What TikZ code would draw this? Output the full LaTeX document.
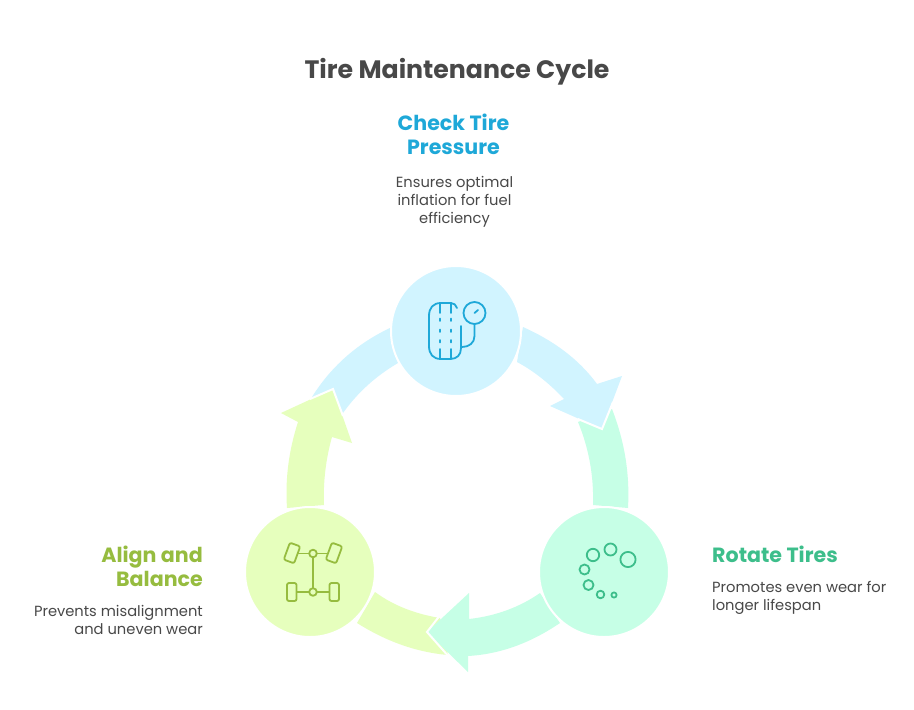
\documentclass[tikz,border=0pt]{standalone}
\usepackage{fontspec}
\setmainfont{Poppins}
\definecolor{bluefill}{HTML}{D1F4FF}
\definecolor{tealfill}{HTML}{C6FFE6}
\definecolor{limefill}{HTML}{E6FFBD}
\definecolor{bluestroke}{HTML}{1EA8D8}
\definecolor{tealstroke}{HTML}{3DBE8B}
\definecolor{limestroke}{HTML}{96BC3F}
\definecolor{inktext}{HTML}{484848}
\tikzset{
  disc/.style={circle,minimum size=130pt,inner sep=0pt,draw=white,line width=2pt},
  icon/.style={line width=1.8pt,line cap=round,line join=round,fill=none},
  cutline/.style={white,line width=2pt,line join=miter},
  headtext/.style={font=\fontsize{20.6pt}{24pt}\selectfont\bfseries,inner sep=0pt},
  bodytext/.style={font=\fontsize{14.7pt}{18pt}\selectfont,text=inktext,inner sep=0pt},
}
\begin{document}
\begin{tikzpicture}[x=1pt,y=-1pt]
\useasboundingbox (0,0) rectangle (914,710);
\fill[white] (0,0) rectangle (914,710);
% lower ribbons first
\fill[tealfill] (578,422) .. controls (588,446) and (594,474) .. (593,505) -- (628,508) .. controls (630,472) and (624,440) .. (612,409) -- cycle;
\fill[limefill] (375,592) .. controls (394,606) and (416,614) .. (440,618) -- (448,655) .. controls (414,652) and (384,640) .. (357,623) -- cycle;
\fill[bluefill] (390,328) .. controls (356,344) and (330,368) .. (312,397) -- (343,413) .. controls (358,392) and (376,376) .. (398,363) -- cycle;
% arrow heads on top
\fill[tealfill] (469,619) -- (469,593) -- (427,632) -- (468,672) -- (468,656) .. controls (502,654) and (532,642) .. (560,623) -- (540,593) .. controls (520,607) and (496,616) .. (469,619) -- cycle;
\draw[cutline] (448,605) -- (427,632) -- (450,658);
\fill[limefill] (287,508) .. controls (285,478) and (289,450) .. (298,422) -- (281,413) -- (333,389) -- (352,443) -- (332,437) .. controls (326,458) and (323,482) .. (324,505) -- cycle;
\draw[cutline] (310,399) -- (333,389) -- (343,416);
\fill[bluefill] (523,327) .. controls (552,340) and (578,358) .. (597,384) -- (622,376) -- (602,429) -- (550,406) -- (564,399) .. controls (550,384) and (534,371) .. (517,362) -- cycle;
\draw[cutline] (578,419) -- (602,429) -- (613,402);
% discs
\node[disc,fill=bluefill] (check) at (456,331) {};
\node[disc,fill=tealfill] (rotate) at (604,572) {};
\node[disc,fill=limefill] (align) at (310,572) {};
% tyre icon
\begin{scope}[bluestroke,icon]
\draw (457,308) .. controls (456,305) and (454,303) .. (451,303) -- (441,303) .. controls (433,303) and (429,308) .. (429,316) -- (429,346) .. controls (429,354) and (433,359) .. (441,359) -- (450,359) .. controls (457,359) and (461,355) .. (461,348) -- (461,326);
\draw (440,303) -- (440,313) (451,303) -- (451,313) (440,349) -- (440,359) (451,349) -- (451,359);
\draw (440,318.5) -- (440,321) (451,318.5) -- (451,321) (440,329.5) -- (440,332) (451,329.5) -- (451,332) (440,340) -- (440,342.5) (451,340) -- (451,342.5);
\draw (474.5,313) circle (11);
\draw (474.5,313) -- (478,310);
\draw (474.5,324) -- (474.5,336) .. controls (474.5,343) and (469,347) .. (462,347);
\end{scope}
% tyre rotation icon
\begin{scope}[tealstroke,icon]
\draw (593,555) circle (6.2);
\draw (610.5,549.5) circle (6);
\draw (628,559.5) circle (7.6);
\draw (584.5,569.5) circle (5);
\draw (588.5,585) circle (5);
\draw (600.5,594.5) circle (3.8);
\draw (614,595) circle (2.6);
\end{scope}
% wheel alignment icon
\begin{scope}[limestroke,icon]
\draw[rotate around={-20:(292,553)},rounded corners=2pt] (286.5,544) rectangle (297.5,562);
\draw[rotate around={-20:(334,553)},rounded corners=2pt] (328.5,544) rectangle (339.5,562);
\draw[rounded corners=2pt] (287,583) rectangle (296.5,601);
\draw[rounded corners=2pt] (329.5,583) rectangle (339,601);
\draw (313,553.5) circle (3.8);
\draw (313,592) circle (3.8);
\draw (298,553.5) -- (309,553.5) (317,553.5) -- (328,553.5);
\draw (297,592) -- (309,592) (317,592) -- (329,592);
\draw (313,557.5) -- (313,588);
\end{scope}
% texts
\node[font=\fontsize{25.2pt}{24pt}\selectfont\bfseries,text=inktext,inner sep=0pt] (title) at (457,72) {Tire Maintenance Cycle};
\node[headtext,text=bluestroke,align=center] (h1) at (453.5,134.5) {Check Tire\\Pressure};
\node[bodytext,align=center] (b1) at (454.5,201.5) {Ensures optimal\\inflation for fuel\\efficiency};
\node[headtext,text=tealstroke,anchor=west] (h2) at (712,554.5) {Rotate Tires};
\node[bodytext,align=left,anchor=north west] (b2) at (712,581.5) {Promotes even wear for\\longer lifespan};
\node[headtext,text=limestroke,align=right,anchor=east] (h3) at (203,566.5) {Align and\\Balance};
\node[bodytext,align=right,anchor=north east] (b3) at (203,605) {Prevents misalignment\\and uneven wear};
\end{tikzpicture}
\end{document}
